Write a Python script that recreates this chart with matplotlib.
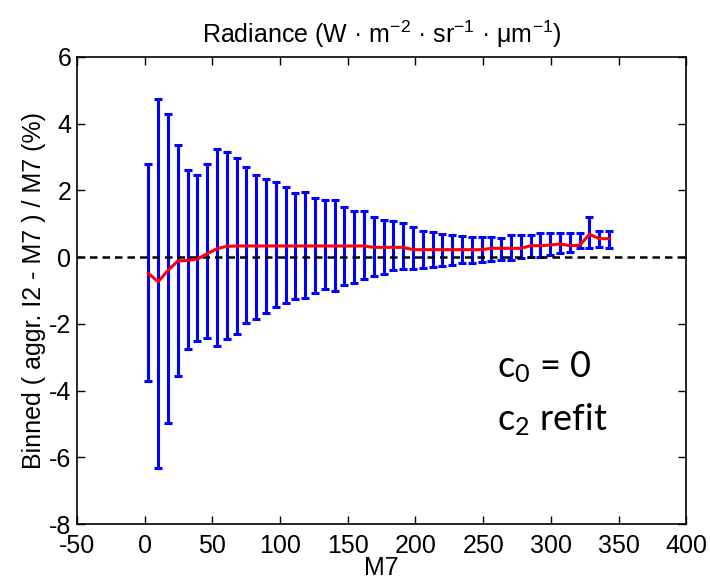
import numpy as np
import matplotlib
matplotlib.use('Agg')
import matplotlib.pyplot as plt

plt.rcParams['font.family'] = ['Liberation Sans', 'DejaVu Sans']
plt.rcParams['axes.unicode_minus'] = False

# bin centres (M7 radiance)
bin_x = [2.7, 9.9, 17.2, 24.4, 31.7, 38.9, 46.1, 53.4, 60.6, 67.9, 75.1, 82.3,
         89.6, 96.8, 104.1, 111.3, 118.5, 125.8, 133.0, 140.3, 147.5, 154.7,
         162.0, 169.2, 176.5, 183.7, 190.9, 198.2, 205.4, 212.7, 219.9, 227.1,
         234.4, 241.6, 248.9, 256.1, 263.3, 270.6, 277.8, 285.1, 292.3, 299.5,
         306.8, 314.0, 321.3, 328.5, 335.7, 343.0]

# upper / lower ends of the blue bars (%)
bar_top = [2.78, 4.73, 4.28, 3.35, 2.60, 2.47, 2.78, 3.23, 3.15, 2.98, 2.69, 2.47,
           2.35, 2.25, 2.10, 1.91, 1.94, 1.76, 1.71, 1.71, 1.51, 1.39, 1.39, 1.21,
           1.11, 1.09, 1.01, 0.89, 0.79, 0.74, 0.69, 0.66, 0.64, 0.61, 0.59, 0.59,
           0.56, 0.66, 0.66, 0.66, 0.71, 0.71, 0.71, 0.71, 0.71, 1.19, 0.79, 0.79]
bar_bottom = [-3.70, -6.31, -4.96, -3.56, -2.76, -2.52, -2.43, -2.68, -2.47, -2.32,
              -1.98, -1.85, -1.69, -1.49, -1.39, -1.27, -1.22, -1.09, -0.97, -1.02,
              -0.84, -0.77, -0.67, -0.56, -0.51, -0.39, -0.37, -0.37, -0.34, -0.29,
              -0.27, -0.24, -0.19, -0.17, -0.14, -0.12, -0.09, -0.09, -0.04, -0.01,
              0.01, 0.06, 0.11, 0.16, 0.28, 0.26, 0.30, 0.28]

# red line (binned centre value, %)
red_line = [-0.49, -0.74, -0.40, -0.12, -0.10, -0.06, 0.10, 0.25, 0.32, 0.33, 0.33,
            0.33, 0.33, 0.33, 0.33, 0.33, 0.33, 0.33, 0.33, 0.33, 0.33, 0.33, 0.33,
            0.29, 0.29, 0.29, 0.29, 0.22, 0.22, 0.22, 0.22, 0.22, 0.22, 0.22, 0.22,
            0.26, 0.26, 0.26, 0.26, 0.34, 0.34, 0.36, 0.39, 0.34, 0.35, 0.68, 0.55,
            0.55]

top = np.array(bar_top)
bot = np.array(bar_bottom)
mid = (top + bot) / 2
half = (top - bot) / 2

fig = plt.figure(figsize=(7.1, 5.87), dpi=100)
ax = fig.add_axes([0.1085, 0.1073, 0.858, 0.796])

ax.errorbar(bin_x, mid, yerr=half, fmt='none', ecolor='blue', elinewidth=2.2,
            capsize=3, capthick=2.2, zorder=2)
ax.axhline(0, color='black', linestyle=(0, (3, 2)), linewidth=1.8, zorder=3)
ax.plot(bin_x, red_line, color='red', linewidth=2.2, zorder=4)

ax.set_xlim(-50, 400)
ax.set_ylim(-8, 6)
ax.set_xticks(np.arange(-50, 401, 50))
ax.set_yticks(np.arange(-8, 7, 2))
ax.tick_params(direction='in', length=6, width=1, top=True, right=True,
               labelsize=18)
ax.tick_params(axis='x', pad=7)
ax.tick_params(axis='y', pad=4)
for s in ax.spines.values():
    s.set_linewidth(1.2)

ax.set_xlabel('M7', fontsize=18, labelpad=-1)
ax.set_ylabel('Binned ( aggr. I2 - M7 ) / M7 (%)', fontsize=18, labelpad=2)
ax.set_title(r'Radiance (W · m$\mathregular{^{-2}}$ · sr$\mathregular{^{-1}}$ · μm$\mathregular{^{-1}}$)',
             fontsize=18, pad=10)

fig.text(0.700, 0.358, r'$\mathregular{c_0}$ = 0', family='Lato', fontsize=26,
         va='baseline')
fig.text(0.700, 0.2675, r'$\mathregular{c_2}$ refit', family='Lato', fontsize=26,
         va='baseline')

fig.savefig('out.png', dpi=100)
